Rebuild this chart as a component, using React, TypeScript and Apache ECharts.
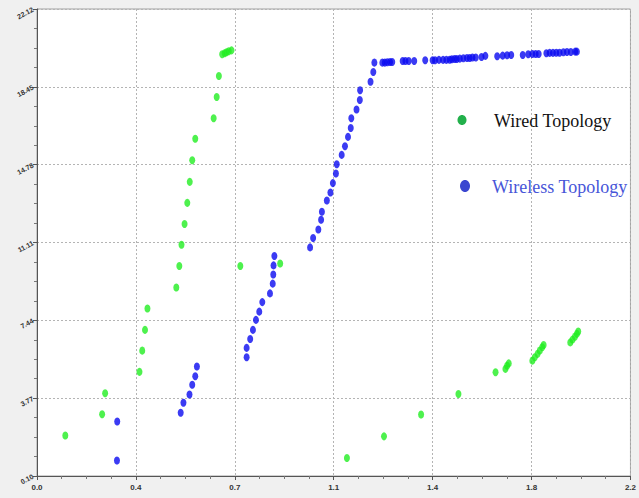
import React, { useEffect, useRef } from "react";
import * as echarts from "echarts";

// Wired topology points [x, y]
const wiredX = [0.103, 0.237, 0.248, 0.373, 0.383, 0.393, 0.402, 0.507, 0.518, 0.526, 0.537, 0.547, 0.556, 0.565, 0.576, 0.643, 0.654, 0.662, 0.674, 0.683, 0.690, 0.698, 0.708, 0.740, 0.885, 1.128, 1.263, 1.398, 1.534, 1.669, 1.705, 1.711, 1.717, 1.803, 1.812, 1.822, 1.830, 1.839, 1.844, 1.941, 1.949, 1.958, 1.965, 1.970];
const wiredY = [2.01, 3.01, 4.00, 5.01, 6.01, 6.99, 8.00, 8.99, 10.00, 11.00, 11.98, 12.98, 13.97, 14.99, 16.00, 16.97, 17.97, 18.96, 19.99, 20.03, 20.08, 20.13, 20.17, 10.00, 10.12, 0.95, 1.97, 3.00, 3.97, 4.99, 5.15, 5.30, 5.41, 5.54, 5.70, 5.86, 6.01, 6.17, 6.28, 6.40, 6.53, 6.67, 6.80, 6.91];

// Wireless topology points [x, y]
const wirelessX = [0.291, 0.292, 0.523, 0.533, 0.555, 0.565, 0.576, 0.582, 0.763, 0.763, 0.776, 0.786, 0.797, 0.809, 0.820, 0.848, 0.858, 0.860, 0.861, 0.864, 0.994, 1.005, 1.024, 1.034, 1.037, 1.055, 1.068, 1.077, 1.088, 1.091, 1.109, 1.121, 1.132, 1.142, 1.144, 1.163, 1.175, 1.176, 1.214, 1.224, 1.228, 1.257, 1.266, 1.275, 1.285, 1.293, 1.331, 1.341, 1.353, 1.373, 1.413, 1.440, 1.449, 1.463, 1.478, 1.490, 1.502, 1.510, 1.520, 1.528, 1.539, 1.552, 1.565, 1.575, 1.585, 1.597, 1.618, 1.632, 1.675, 1.695, 1.711, 1.726, 1.768, 1.788, 1.803, 1.815, 1.826, 1.854, 1.866, 1.878, 1.890, 1.902, 1.916, 1.929, 1.943, 1.959, 1.965];
const wirelessY = [0.83, 2.67, 3.08, 3.55, 3.94, 4.40, 4.80, 5.26, 5.70, 6.14, 6.56, 6.99, 7.46, 7.85, 8.30, 8.71, 9.17, 9.60, 10.03, 10.47, 10.88, 11.32, 11.72, 12.18, 12.56, 13.09, 13.47, 13.91, 14.36, 14.80, 15.24, 15.65, 16.09, 16.51, 16.97, 17.38, 17.83, 18.29, 18.69, 19.15, 19.59, 19.59, 19.59, 19.61, 19.62, 19.62, 19.67, 19.67, 19.67, 19.67, 19.70, 19.70, 19.70, 19.72, 19.72, 19.72, 19.73, 19.75, 19.76, 19.76, 19.78, 19.80, 19.81, 19.81, 19.83, 19.83, 19.86, 19.91, 19.89, 19.92, 19.94, 19.95, 19.95, 19.99, 20.00, 20.00, 20.00, 20.03, 20.05, 20.05, 20.06, 20.06, 20.08, 20.09, 20.09, 20.11, 20.11];

// Axis settings
const xMin = 0;
const xMax = 2.16;
const xStep = 0.36;
const yMin = 0.1;
const yMax = 22.12;
const yStep = 3.67;

const legendLabels = ["Wired Topology", "Wireless Topology"];

export default function App() {
  const ref = useRef<HTMLDivElement>(null);

  useEffect(() => {
    if (!ref.current) return;
    const chart = echarts.init(ref.current, null, { renderer: "svg" });
    const wired = wiredX.map((x, i) => [x, wiredY[i]]);
    const wireless = wirelessX.map((x, i) => [x, wirelessY[i]]);
    const gridLine = { show: true, lineStyle: { color: "#b4b4b4", type: [2, 2] as any, width: 1 } };
    const labelFont = "Liberation Sans Narrow, Liberation Sans, sans-serif";
    chart.setOption({
      animation: false,
      backgroundColor: "#f0f0f0",
      grid: {
        left: 37,
        right: 0,
        top: 9,
        bottom: 22,
        show: true,
        backgroundColor: "#ffffff",
        borderColor: "#a0a0a0",
        borderWidth: 1,
      },
      xAxis: {
        type: "value",
        min: xMin,
        max: xMax,
        interval: xStep,
        axisLine: { show: true, onZero: false, lineStyle: { color: "#555", width: 1 } },
        axisTick: { show: true, length: 4, lineStyle: { color: "#555" } },
        minorTick: { show: true, splitNumber: 4, length: 3, lineStyle: { color: "#777" } },
        splitLine: gridLine,
        axisLabel: {
          margin: 7,
          fontSize: 8,
          fontWeight: "bold",
          color: "#333",
          fontFamily: labelFont,
          alignMaxLabel: "center",
          formatter: (v: number) => v.toFixed(1),
        },
      },
      yAxis: {
        type: "value",
        min: yMin,
        max: yMax,
        interval: yStep,
        axisLine: { show: true, onZero: false, lineStyle: { color: "#555", width: 1 } },
        axisTick: { show: true, length: 4, lineStyle: { color: "#555" } },
        minorTick: { show: true, splitNumber: 4, length: 3, lineStyle: { color: "#777" } },
        splitLine: gridLine,
        axisLabel: {
          margin: 4,
          rotate: 28,
          fontSize: 7,
          fontWeight: "bold",
          color: "#333",
          fontFamily: labelFont,
          formatter: (v: number) => v.toFixed(2),
        },
      },
      graphic: [
        { type: "ellipse", shape: { cx: 462, cy: 120, rx: 4.5, ry: 5 }, style: { fill: "#22b04b" }, z: 10 },
        {
          type: "text",
          x: 494,
          y: 121,
          style: {
            text: legendLabels[0],
            fill: "#111111",
            font: "18px 'Liberation Serif', serif",
            verticalAlign: "middle",
          },
          z: 10,
        },
        { type: "ellipse", shape: { cx: 465, cy: 186, rx: 5, ry: 6 }, style: { fill: "#3a46d0" }, z: 10 },
        {
          type: "text",
          x: 492,
          y: 187,
          style: {
            text: legendLabels[1],
            fill: "#4755d8",
            font: "18px 'Liberation Serif', serif",
            verticalAlign: "middle",
          },
          z: 10,
        },
      ],
      series: [
        {
          name: legendLabels[0],
          type: "scatter",
          data: wired,
          symbol: "circle",
          symbolSize: [6, 8],
          itemStyle: { color: "#22ee22" },
        },
        {
          name: legendLabels[1],
          type: "scatter",
          data: wireless,
          symbol: "circle",
          symbolSize: [6, 8],
          itemStyle: { color: "#0a0af0" },
        },
      ],
    });
    return () => chart.dispose();
  }, []);

  return (
    <div
      ref={ref}
      style={{ position: "fixed", left: 0, top: 0, width: 639, height: 498 }}
    />
  );
}
